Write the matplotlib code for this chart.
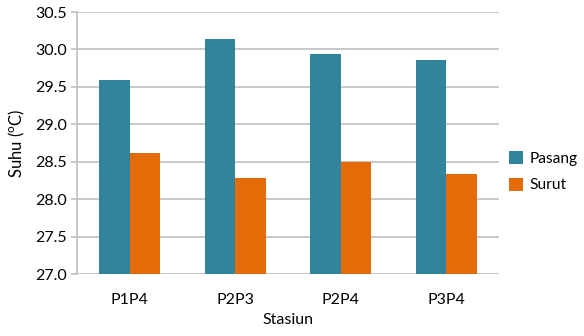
import matplotlib
matplotlib.use("Agg")
import matplotlib.pyplot as plt
import numpy as np

categories = ["P1P4", "P2P3", "P2P4", "P3P4"]
pasang = [29.59, 30.135, 29.935, 29.86]
surut = [28.62, 28.28, 28.49, 28.33]
yticks = [27.0, 27.5, 28.0, 28.5, 29.0, 29.5, 30.0, 30.5]

plt.rcParams['font.family'] = ['Lato', 'DejaVu Sans']

fig = plt.figure(figsize=(5.84, 3.36), dpi=100)
ax = fig.add_axes([77/584, 1-274/336, (499-77)/584, (274-12)/336])

x = np.arange(len(categories))
w = 0.29
ax.bar(x - w/2, np.array(pasang) - 27.0, w, bottom=27.0, color="#31849B", label="Pasang", zorder=3)
ax.bar(x + w/2, np.array(surut) - 27.0, w, bottom=27.0, color="#E36C09", label="Surut", zorder=3)

ax.set_xlim(-0.5, len(categories) - 0.5)
ax.set_ylim(27.0, 30.5)
ax.set_yticks(yticks)
ax.set_yticklabels([f"{v:.1f}" for v in yticks], fontsize=11.5)
ax.set_xticks(x)
ax.set_xticklabels(categories, fontsize=11.5)
ax.tick_params(axis='x', length=0, pad=14)
ax.tick_params(axis='y', length=4, color="#BFBFBF", width=1.2, pad=3)
ax.grid(axis='y', color="#BFBFBF", linewidth=1.2, zorder=0)
for s in ["top", "right", "bottom"]:
    ax.spines[s].set_visible(False)
ax.spines["left"].set_color("#BFBFBF")
ax.spines["left"].set_linewidth(1.2)

ax.set_xlabel("Stasiun", fontsize=11.5, labelpad=4)
ax.set_ylabel("Suhu ($^{\\mathregular{o}}$C)", fontsize=12, labelpad=6)

ax.legend(loc="center left", bbox_to_anchor=(0.99, 0.39), frameon=False, fontsize=11.2,
          handlelength=0.9, handleheight=0.9, handletextpad=0.45, labelspacing=0.75)

fig.savefig("out.png", dpi=100)
